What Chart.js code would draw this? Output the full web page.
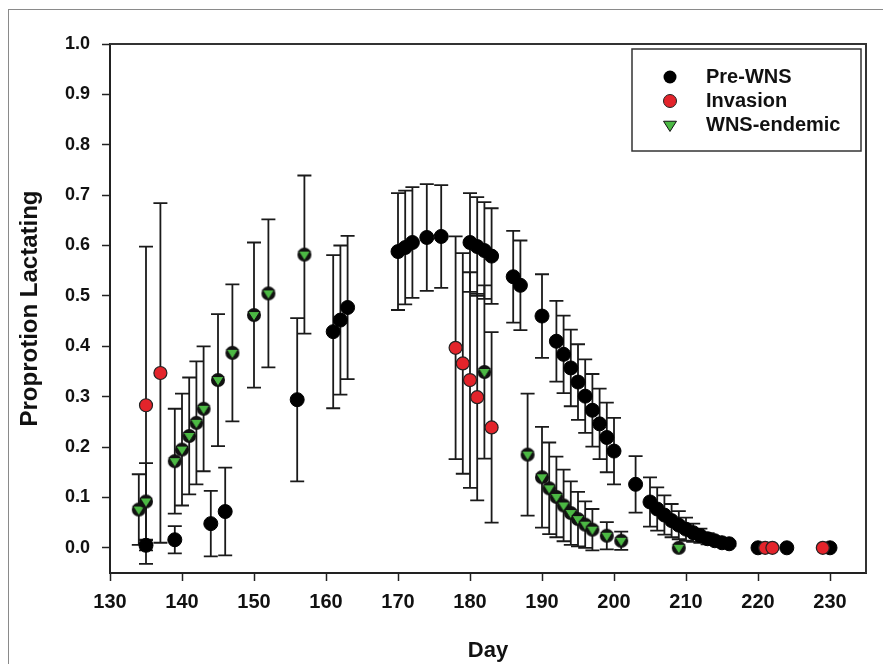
<!DOCTYPE html>
<html lang="en">
<head>
<meta charset="UTF-8" />
<title>Proportion lactating by day</title>
<script src="https://cdn.jsdelivr.net/npm/chart.js"></script>
<style>
  html, body { margin: 0; padding: 0; background: #fff; }
  #wrap { position: relative; width: 883px; height: 664px; }
</style>
</head>
<body>
<div id="wrap"><canvas id="chart"></canvas></div>
<script>
// values (mean and half-width of the error bar)
const preDays = [135, 139, 144, 146, 156, 161, 162, 163, 170, 171, 172, 174, 176, 180, 181, 182, 183, 186, 187, 190,
  192, 193, 194, 195, 196, 197, 198, 199, 200, 203, 205, 206, 207, 208, 209, 210, 211, 212, 213, 214, 215, 216, 220, 224, 230];
const preVals = [0.005, 0.016, 0.048, 0.072, 0.294, 0.429, 0.452, 0.477, 0.588, 0.596, 0.606, 0.616, 0.618, 0.606, 0.598, 0.590, 0.579, 0.538, 0.521, 0.460,
  0.410, 0.384, 0.357, 0.329, 0.301, 0.273, 0.246, 0.219, 0.192, 0.126, 0.091, 0.077, 0.065, 0.054, 0.045, 0.037, 0.030, 0.024, 0.018, 0.014, 0.010, 0.008, 0, 0, 0];
const preErr = [0.010, 0.027, 0.065, 0.087, 0.162, 0.152, 0.148, 0.142, 0.116, 0.113, 0.110, 0.106, 0.102, 0.098, 0.098, 0.096, 0.095, 0.091, 0.089, 0.083,
  0.080, 0.077, 0.076, 0.075, 0.073, 0.072, 0.070, 0.069, 0.066, 0.056, 0.049, 0.043, 0.039, 0.033, 0.028, 0.023, 0.018, 0.014, 0.011, 0.008, 0.007, 0.004, 0, 0, 0];

const invDays = [135, 137, 178, 179, 180, 181, 183, 221, 222, 229];
const invVals = [0.283, 0.347, 0.397, 0.366, 0.333, 0.299, 0.239, 0, 0, 0];
const invErr = [0.315, 0.337, 0.221, 0.219, 0.214, 0.205, 0.189, 0, 0, 0];

const endDays = [134, 135, 139, 140, 141, 142, 143, 145, 147, 150, 152, 157, 182, 188, 190, 191, 192, 193, 194, 195, 196, 197, 199, 201, 209];
const endVals = [0.076, 0.092, 0.172, 0.195, 0.222, 0.248, 0.276, 0.333, 0.387, 0.462, 0.505, 0.582, 0.349, 0.185, 0.140, 0.118, 0.101, 0.084, 0.069, 0.057, 0.046, 0.036, 0.024, 0.014, 0.0];
const endErr = [0.070, 0.076, 0.104, 0.111, 0.116, 0.122, 0.124, 0.131, 0.136, 0.144, 0.147, 0.157, 0.172, 0.121, 0.100, 0.091, 0.080, 0.071, 0.063, 0.054, 0.046, 0.041, 0.027, 0.018, 0];

const xTicks = [130, 140, 150, 160, 170, 180, 190, 200, 210, 220, 230];
const yTicks = [0, 0.1, 0.2, 0.3, 0.4, 0.5, 0.6, 0.7, 0.8, 0.9, 1.0];

const FONT = "'Liberation Sans', Arial, Helvetica, sans-serif";
const GREEN = '#4cb944';
const RED = '#e3242b';

function points(days, vals, errs) {
  return days.map((d, i) => ({ x: d, y: vals[i], err: errs[i] }));
}

// down-pointing green triangle; the plot version sits on a dark disc
function triangleMarker(size, disc, lw) {
  const c = document.createElement('canvas');
  c.width = size; c.height = size;
  const g = c.getContext('2d');
  const m = size / 2;
  if (disc) {
    g.beginPath();
    g.arc(m, m, disc, 0, Math.PI * 2);
    g.fillStyle = '#111';
    g.fill();
  }
  const h = disc ? disc * 0.86 : size * 0.36;
  g.beginPath();
  g.moveTo(m - h, m - h * 0.58);
  g.lineTo(m + h, m - h * 0.58);
  g.lineTo(m, m + h * 1.0);
  g.closePath();
  g.fillStyle = GREEN;
  g.fill();
  g.lineJoin = 'round';
  g.lineWidth = lw;
  g.strokeStyle = '#111';
  g.stroke();
  return c;
}

const triPlot = triangleMarker(18, 7, 1);
const triLegend = triangleMarker(18, 0, 1);

const frameAndErrors = {
  id: 'frameAndErrors',
  beforeDraw(chart) {
    const ctx = chart.ctx;
    ctx.save();
    ctx.strokeStyle = '#8a8a8a';
    ctx.lineWidth = 1;
    ctx.strokeRect(8.5, 9.5, 900, 700);
    ctx.restore();
  },
  beforeDatasetsDraw(chart) {
    const ctx = chart.ctx;
    const xs = chart.scales.x, ys = chart.scales.y;
    ctx.save();
    ctx.strokeStyle = '#1a1a1a';
    ctx.lineWidth = 1.8;
    chart.data.datasets.forEach(ds => {
      ds.data.forEach(p => {
        if (!p.err) return;
        const px = xs.getPixelForValue(p.x);
        const hi = ys.getPixelForValue(p.y + p.err);
        const lo = ys.getPixelForValue(p.y - p.err);
        ctx.beginPath();
        ctx.moveTo(px, hi); ctx.lineTo(px, lo);
        ctx.moveTo(px - 7, hi); ctx.lineTo(px + 7, hi);
        ctx.moveTo(px - 7, lo); ctx.lineTo(px + 7, lo);
        ctx.stroke();
      });
    });
    ctx.restore();
  },
  afterDraw(chart) {
    const ctx = chart.ctx;
    const a = chart.chartArea;
    ctx.save();
    // top and right side of the plot box
    ctx.strokeStyle = '#333';
    ctx.lineWidth = 2;
    ctx.beginPath();
    ctx.moveTo(a.left, a.top);
    ctx.lineTo(a.right, a.top);
    ctx.lineTo(a.right, a.bottom);
    ctx.stroke();

    // legend box
    ctx.lineWidth = 1.5;
    ctx.strokeRect(632, 49, 229, 102);
    const rows = [
      { label: 'Pre-WNS', y: 77 },
      { label: 'Invasion', y: 101 },
      { label: 'WNS-endemic', y: 125 }
    ];
    ctx.beginPath();
    ctx.arc(670, rows[0].y, 6.5, 0, Math.PI * 2);
    ctx.fillStyle = '#000';
    ctx.fill();
    ctx.beginPath();
    ctx.arc(670, rows[1].y, 6.5, 0, Math.PI * 2);
    ctx.fillStyle = RED;
    ctx.fill();
    ctx.lineWidth = 1;
    ctx.strokeStyle = '#222';
    ctx.stroke();
    ctx.drawImage(triLegend, 670 - 9, rows[2].y - 9);

    ctx.fillStyle = '#111';
    ctx.font = 'bold 20px ' + FONT;
    ctx.textBaseline = 'middle';
    ctx.textAlign = 'left';
    rows.forEach(r => ctx.fillText(r.label, 706, r.y));
    ctx.restore();
  }
};

new Chart(document.getElementById('chart'), {
  type: 'scatter',
  data: {
    datasets: [
      {
        label: 'Pre-WNS',
        data: points(preDays, preVals, preErr),
        pointStyle: 'circle',
        pointRadius: 7,
        backgroundColor: '#000',
        borderColor: '#000',
        borderWidth: 1,
        order: 3
      },
      {
        label: 'Invasion',
        data: points(invDays, invVals, invErr),
        pointStyle: 'circle',
        pointRadius: 6.5,
        backgroundColor: RED,
        borderColor: '#222',
        borderWidth: 1.2,
        order: 2
      },
      {
        label: 'WNS-endemic',
        data: points(endDays, endVals, endErr),
        pointStyle: triPlot,
        pointRadius: 8,
        order: 1
      }
    ]
  },
  options: {
    responsive: true,
    maintainAspectRatio: false,
    animation: false,
    layout: { padding: { top: 44, right: 17, left: 0, bottom: 0 } },
    plugins: {
      legend: { display: false },
      tooltip: { enabled: false }
    },
    scales: {
      x: {
        type: 'linear',
        min: 130,
        max: 235,
        afterBuildTicks: s => { s.ticks = xTicks.map(v => ({ value: v })); },
        afterFit: s => { s.height = 91; },
        ticks: {
          color: '#111',
          font: { family: FONT, size: 20, weight: 'bold' },
          padding: 9,
          maxRotation: 0,
          autoSkip: false
        },
        grid: { drawOnChartArea: false, tickLength: 8, tickColor: '#222', tickWidth: 1.5 },
        border: { color: '#222', width: 2 },
        title: {
          display: true,
          text: 'Day',
          color: '#111',
          font: { family: FONT, size: 22, weight: 'bold' },
          padding: { top: 0, bottom: 0 }
        }
      },
      y: {
        type: 'linear',
        min: -0.05,
        max: 1.0,
        afterBuildTicks: s => { s.ticks = yTicks.map(v => ({ value: v })); },
        afterFit: s => { s.width = 110; },
        ticks: {
          color: '#111',
          font: { family: FONT, size: 18, weight: 'bold' },
          padding: 12,
          callback: v => v.toFixed(1)
        },
        grid: { drawOnChartArea: false, tickLength: 8, tickColor: '#222', tickWidth: 1.5 },
        border: { color: '#222', width: 2 },
        title: {
          display: true,
          text: 'Proprotion Lactating',
          color: '#111',
          font: { family: FONT, size: 24, weight: 'bold' },
          padding: { top: 16, bottom: 0 }
        }
      }
    }
  },
  plugins: [frameAndErrors]
});
</script>
</body>
</html>
